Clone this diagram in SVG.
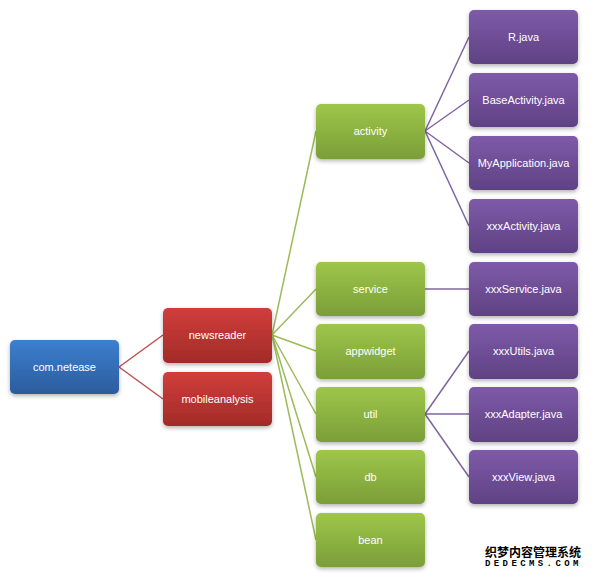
<svg xmlns="http://www.w3.org/2000/svg" width="594" height="578" viewBox="0 0 594 578">
<defs>
<linearGradient id="gb" x1="0" y1="0" x2="0" y2="1"><stop offset="0" stop-color="#3d7fd0"/><stop offset="1" stop-color="#2b5c9c"/></linearGradient>
<linearGradient id="gr" x1="0" y1="0" x2="0" y2="1"><stop offset="0" stop-color="#d03e3b"/><stop offset="1" stop-color="#a22b28"/></linearGradient>
<linearGradient id="gg" x1="0" y1="0" x2="0" y2="1"><stop offset="0" stop-color="#9ec64a"/><stop offset="1" stop-color="#7b9e38"/></linearGradient>
<linearGradient id="gp" x1="0" y1="0" x2="0" y2="1"><stop offset="0" stop-color="#7e5aa9"/><stop offset="1" stop-color="#5f4283"/></linearGradient>
<filter id="sh" x="-10%" y="-10%" width="120%" height="140%"><feDropShadow dx="0" dy="2" stdDeviation="2" flood-color="#000" flood-opacity="0.3"/></filter>
</defs>
<style>
rect{filter:url(#sh)}
.b rect{fill:url(#gb)} .r rect{fill:url(#gr)} .g rect{fill:url(#gg)} .p rect{fill:url(#gp)}
text{font-family:"Liberation Sans",Arial,sans-serif;font-size:11px;fill:#fff;text-anchor:middle;dominant-baseline:central}
.c line{stroke-width:1.5}
.cr line{stroke:#c0504d} .cg line{stroke:#9bbb59} .cp line{stroke:#8064a2}
.wm{font-family:"Noto Sans CJK SC",sans-serif;font-weight:bold;fill:#000;stroke:#fff;stroke-width:0.6;paint-order:stroke;text-anchor:start}
</style>
<rect x="0" y="0" width="594" height="578" fill="#fff" style="filter:none"/>
<g id="connectors" class="c">
<g class="cr">
<line x1="119" y1="367" x2="163" y2="335"/>
<line x1="119" y1="367" x2="163" y2="399"/>
</g>
<g class="cg">
<line x1="272" y1="335" x2="316" y2="131"/>
<line x1="272" y1="335" x2="316" y2="289"/>
<line x1="272" y1="335" x2="316" y2="351"/>
<line x1="272" y1="335" x2="316" y2="414"/>
<line x1="272" y1="335" x2="316" y2="477"/>
<line x1="272" y1="335" x2="316" y2="540"/>
</g>
<g class="cp">
<line x1="425" y1="131" x2="469" y2="37"/>
<line x1="425" y1="131" x2="469" y2="100"/>
<line x1="425" y1="131" x2="469" y2="163"/>
<line x1="425" y1="131" x2="469" y2="226"/>
<line x1="425" y1="289" x2="469" y2="289"/>
<line x1="425" y1="414" x2="469" y2="351"/>
<line x1="425" y1="414" x2="469" y2="414"/>
<line x1="425" y1="414" x2="469" y2="477"/>
</g>
</g>
<g id="com-netease" class="b"><rect x="10" y="340" width="109" height="54" rx="5"/><text x="64.5" y="367">com.netease</text></g>
<g id="newsreader" class="r"><rect x="163" y="308" width="109" height="55" rx="5"/><text x="217.5" y="335">newsreader</text></g>
<g id="mobileanalysis" class="r"><rect x="163" y="372" width="109" height="54" rx="5"/><text x="217.5" y="399">mobileanalysis</text></g>
<g id="activity" class="g"><rect x="316" y="104" width="109" height="55" rx="5"/><text x="370.5" y="131">activity</text></g>
<g id="service" class="g"><rect x="316" y="262" width="109" height="54" rx="5"/><text x="370.5" y="289">service</text></g>
<g id="appwidget" class="g"><rect x="316" y="324" width="109" height="55" rx="5"/><text x="370.5" y="351">appwidget</text></g>
<g id="util" class="g"><rect x="316" y="387" width="109" height="55" rx="5"/><text x="370.5" y="414">util</text></g>
<g id="db" class="g"><rect x="316" y="450" width="109" height="54" rx="5"/><text x="370.5" y="477">db</text></g>
<g id="bean" class="g"><rect x="316" y="513" width="109" height="54" rx="5"/><text x="370.5" y="540">bean</text></g>
<g id="r-java" class="p"><rect x="469" y="10" width="109" height="54" rx="5"/><text x="523.5" y="37">R.java</text></g>
<g id="baseactivity" class="p"><rect x="469" y="73" width="109" height="54" rx="5"/><text x="523.5" y="100">BaseActivity.java</text></g>
<g id="myapplication" class="p"><rect x="469" y="136" width="109" height="54" rx="5"/><text x="523.5" y="163">MyApplication.java</text></g>
<g id="xxxactivity" class="p"><rect x="469" y="199" width="109" height="54" rx="5"/><text x="523.5" y="226">xxxActivity.java</text></g>
<g id="xxxservice" class="p"><rect x="469" y="262" width="109" height="54" rx="5"/><text x="523.5" y="289">xxxService.java</text></g>
<g id="xxxutils" class="p"><rect x="469" y="324" width="109" height="55" rx="5"/><text x="523.5" y="351">xxxUtils.java</text></g>
<g id="xxxadapter" class="p"><rect x="469" y="387" width="109" height="55" rx="5"/><text x="523.5" y="414">xxxAdapter.java</text></g>
<g id="xxxview" class="p"><rect x="469" y="450" width="109" height="54" rx="5"/><text x="523.5" y="477">xxxView.java</text></g>
<g id="watermark">
<text class="wm" x="485" y="551" style="font-size:12px">织梦内容管理系统</text>
<text class="wm" x="485" y="564" style="font-size:9px;font-family:'Liberation Mono',monospace;letter-spacing:3.4px">DEDECMS.COM</text>
</g>
</svg>
